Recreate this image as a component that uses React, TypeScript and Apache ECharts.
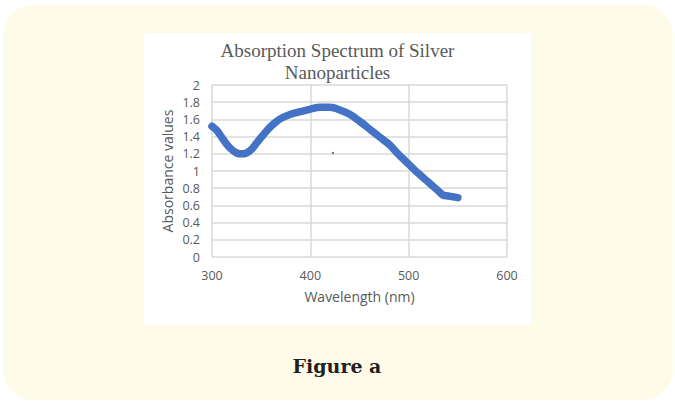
import React, { useEffect, useRef } from "react";
import * as echarts from "echarts";

const titleText = "Absorption Spectrum of Silver\nNanoparticles";
const xAxisName = "Wavelength (nm)";
const yAxisName = "Absorbance values";
const captionText = "Figure a";

const wavelength = [300, 305, 310, 315, 320, 325, 330, 335, 340, 345, 350, 355, 360, 365, 370, 380, 390, 400, 410, 420, 430, 440, 450, 460, 470, 480, 490, 500, 510, 520, 530, 535, 540, 545, 550];
const absorbance = [1.52, 1.47, 1.39, 1.31, 1.25, 1.21, 1.2, 1.21, 1.25, 1.32, 1.39, 1.46, 1.52, 1.57, 1.61, 1.66, 1.69, 1.72, 1.74, 1.74, 1.71, 1.66, 1.58, 1.49, 1.4, 1.31, 1.19, 1.08, 0.97, 0.87, 0.77, 0.72, 0.71, 0.7, 0.69];
const strayMark = [[423, 1.21]];

const xMin = 300, xMax = 600, xStep = 100;
const yMin = 0, yMax = 2, yStep = 0.2;

export default function App() {
  const ref = useRef<HTMLDivElement>(null);
  useEffect(() => {
    if (!ref.current) return;
    const chart = echarts.init(ref.current, null, { renderer: "svg" });
    const labelFont = "'Open Sans', 'Noto Sans', sans-serif";
    chart.setOption({
      animation: false,
      backgroundColor: "#ffffff",
      graphic: [
        { type: "rect", z: -10, shape: { x: 3, y: 5, width: 670, height: 395, r: 30 }, style: { fill: "#fffbe9" } },
        { type: "rect", z: -9, shape: { x: 144, y: 33, width: 387, height: 292 }, style: { fill: "#ffffff" } },
        {
          type: "text", x: 337, y: 366,
          style: { text: captionText, fill: "#231f20", font: "bold 19px 'DejaVu Serif', serif", align: "center", verticalAlign: "middle" },
        },
      ],
      title: {
        text: titleText,
        left: "center",
        top: 34,
        textStyle: { fontFamily: "'Liberation Serif', serif", fontSize: 19, fontWeight: "normal", color: "#595959", lineHeight: 22 },
      },
      grid: { left: 212, right: 168, top: 85, bottom: 144 },
      xAxis: {
        type: "value", min: xMin, max: xMax, interval: xStep,
        name: xAxisName, nameLocation: "middle", nameGap: 32,
        nameTextStyle: { fontFamily: labelFont, fontSize: 14, color: "#595959" },
        axisLine: { show: false }, axisTick: { show: false },
        axisLabel: { fontFamily: labelFont, fontSize: 12.5, color: "#595959", margin: 12 },
        splitLine: { show: true, lineStyle: { color: "#d9d9d9", width: 1.5 } },
      },
      yAxis: {
        type: "value", min: yMin, max: yMax, interval: yStep,
        name: yAxisName, nameLocation: "middle", nameGap: 38,
        nameTextStyle: { fontFamily: labelFont, fontSize: 14, color: "#595959" },
        axisLine: { show: false }, axisTick: { show: false },
        axisLabel: { fontFamily: labelFont, fontSize: 12.5, color: "#595959", margin: 12 },
        splitLine: { show: true, lineStyle: { color: "#d9d9d9", width: 1.5 } },
      },
      series: [
        {
          type: "line",
          data: wavelength.map((w, i) => [w, absorbance[i]]),
          smooth: 0.3,
          showSymbol: false,
          lineStyle: { color: "#4472c4", width: 7.5, cap: "round", join: "round" },
        },
        {
          type: "scatter",
          data: strayMark,
          symbolSize: 2,
          itemStyle: { color: "#333333" },
        },
      ],
    });
    return () => chart.dispose();
  }, []);
  return <div ref={ref} style={{ position: "absolute", left: 0, top: 0, width: 675, height: 401 }} />;
}
